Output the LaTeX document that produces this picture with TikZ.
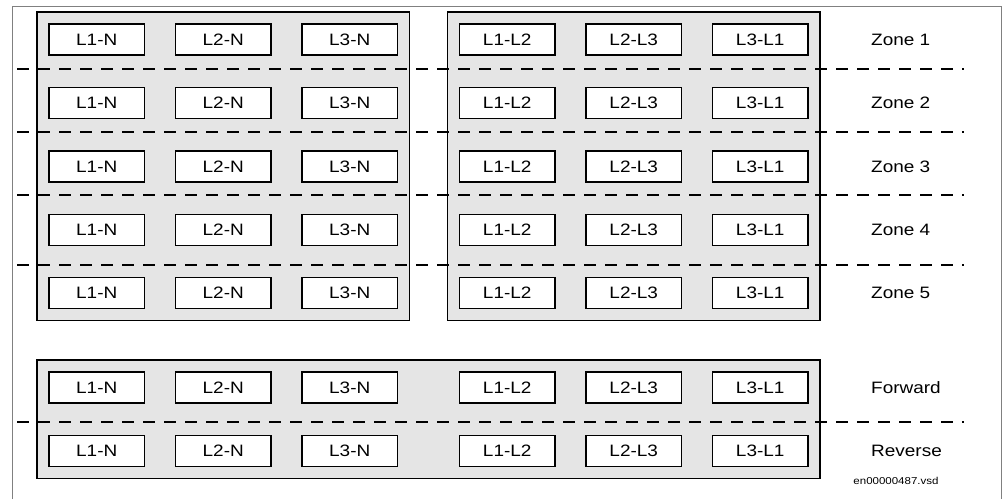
\documentclass[tikz,border=0pt]{standalone}
\usepackage{fontspec}
\setmainfont{Liberation Sans}[FakeStretch=1.15]
\usetikzlibrary{positioning,fit,backgrounds}

\begin{document}
\begin{tikzpicture}[x=1pt,y=-1pt,node distance=31pt,
    phase/.style={rectangle,draw,line width=1.3pt,fill=white,minimum width=95.5pt,minimum height=31pt,inner sep=0pt,outer sep=0pt,font=\fontsize{16.5}{18}\selectfont},
    zone/.style={inner sep=0pt,font=\fontsize{16.5}{18}\selectfont},
    group/.style={rectangle,draw,line width=1.3pt,fill=black!10,inner sep=12pt},
    cut/.style={line width=1.3pt,dash pattern=on 12pt off 9pt}]
    \useasboundingbox (0,0) rectangle (1004,499);
    \draw[gray,line width=0.9pt] (12,499) -- (12,6) -- (1001.5,6) -- (1001.5,499);

    % one row of measuring loops per zone
    \foreach \r/\y/\lbl in {1/39.5/Zone 1,2/103/Zone 2,3/166.5/Zone 3,4/230/Zone 4,5/293/Zone 5,6/387.5/Forward,7/451/Reverse} {
        \node[phase] (n1-\r) at (96.75,\y) {L1-N};
        \node[phase,right=of n1-\r] (n2-\r) {L2-N};
        \node[phase,right=of n2-\r] (n3-\r) {L3-N};
        \node[phase,right=62pt of n3-\r] (p1-\r) {L1-L2};
        \node[phase,right=of p1-\r] (p2-\r) {L2-L3};
        \node[phase,right=of p2-\r] (p3-\r) {L3-L1};
        \node[zone,right=63pt of p3-\r] (zone\r) {\lbl};
    }

    \begin{scope}[on background layer]
        \node[group,fit=(n1-1)(n3-5)] (wye) {};
        \node[group,fit=(p1-1)(p3-5)] (delta) {};
        \node[group,fit=(n1-6)(p3-7)] (dir) {};
    \end{scope}

    % zone borders
    \foreach \c/\y in {1/69,2/132,3/195,4/265,5/422} {
        \coordinate (cut\c-w) at (17,\y);
        \coordinate (cut\c-e) at (964,\y);
        \draw[cut] (cut\c-w) -- (cut\c-e);
    }

    \node[font=\fontsize{10}{12}\selectfont] (file) at (896,481) {en00000487.vsd};
\end{tikzpicture}
\end{document}
